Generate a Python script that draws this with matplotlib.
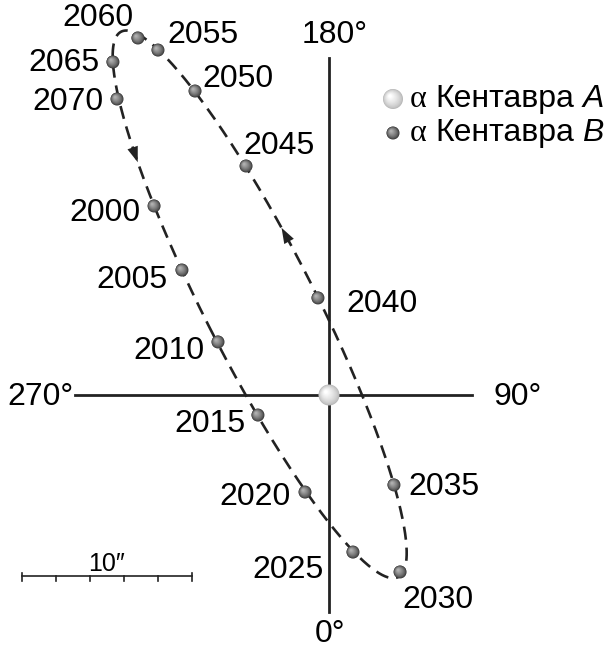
import numpy as np
import matplotlib.pyplot as plt
import matplotlib.colors as mcolors
from matplotlib.patches import Circle
from matplotlib.offsetbox import TextArea, HPacker, AnnotationBbox

plt.rcParams['font.family'] = ['Liberation Sans', 'DejaVu Sans']

# Положения α Кентавра B относительно A, угловые секунды (x вправо, y вверх)
years = [2000, 2005, 2010, 2015, 2020, 2025, 2030, 2035,
         2040, 2045, 2050, 2055, 2060, 2065, 2070]
dx = [-10.29, -8.65, -6.53, -4.18, -1.41, 1.41, 4.18, 3.82,
      -0.65, -4.88, -7.88, -10.06, -11.24, -12.71, -12.47]
dy = [11.12, 7.35, 3.12, -1.18, -5.71, -9.24, -10.41, -5.29,
      5.71, 13.47, 17.88, 20.29, 21.00, 19.59, 17.41]
# смещения подписей годов от точки, пиксели
lab_dx = [-49, -50, -49, -48, -50, -65, 38, 50, 64, 33, 43, 45, -40, -49, -49]
lab_dy = [-7, -10, -9, -9, -5, -18, -28, -2, -6, 20, 12, 15, 20, -1, -3]

SCALE = 17.0          # пикселей на 1″
CX, CY = 329, 395     # где стоит звезда A


def px(x, y):
    return (x - CX) / SCALE, (CY - y) / SCALE


def ball(ax, x, y, r, dark, light, z):
    # шарик с бликом слева сверху
    c0 = np.array(mcolors.to_rgb(dark))
    c1 = np.array(mcolors.to_rgb(light))
    n = 16
    for i in range(n):
        f = i / (n - 1)
        rr = r * (1 - 0.85 * f)
        col = c0 + (c1 - c0) * f ** 0.7
        ax.add_patch(Circle((x - 0.3 * r * f, y + 0.3 * r * f), rr,
                            color=col, lw=0, zorder=z))


fig = plt.figure(figsize=(6.14, 6.53), dpi=100)
ax = fig.add_axes([0, 0, 1, 1])
ax.set_xlim(-CX / SCALE, (614 - CX) / SCALE)
ax.set_ylim((CY - 653) / SCALE, CY / SCALE)
ax.axis('off')

# оси позиционных углов
ax.plot([0, 0], [px(0, 58)[1], px(0, 612)[1]], color='#222222', lw=2.0, zorder=1)
ax.plot([px(75, 0)[0], px(472, 0)[0]], [0, 0], color='#222222', lw=2.0, zorder=1)
fs = 23
ax.text(*px(335, 35), '180°', fontsize=fs, ha='center', va='center')
ax.text(*px(330, 634), '0°', fontsize=fs, ha='center', va='center')
ax.text(*px(40, 397), '270°', fontsize=fs, ha='center', va='center')
ax.text(*px(518, 397), '90°', fontsize=fs, ha='center', va='center')

# эллипс орбиты по точкам (коника, МНК)
x = np.array(dx)
y = np.array(dy)
D = np.column_stack([x * x, x * y, y * y, x, y, np.ones_like(x)])
a, b, c, d, e, f = np.linalg.svd(D)[2][-1]
M = np.array([[2 * a, b], [b, 2 * c]])
ctr = np.linalg.solve(M, [-d, -e])
fc = a * ctr[0] ** 2 + b * ctr[0] * ctr[1] + c * ctr[1] ** 2 + d * ctr[0] + e * ctr[1] + f
lam, vec = np.linalg.eigh(np.array([[a, b / 2], [b / 2, c]]))
ax_len = np.sqrt(-fc / lam)
t = np.linspace(0, 2 * np.pi, 721)
ell = ctr[:, None] + vec @ np.vstack([ax_len[0] * np.cos(t), ax_len[1] * np.sin(t)])
ax.plot(ell[0], ell[1], color='#222222', lw=1.9, dashes=(5, 3), zorder=2)


# направление движения по орбите
def nearest_t(px_, py_):
    return t[np.argmin((ell[0] - px_) ** 2 + (ell[1] - py_) ** 2)]


t0 = nearest_t(x[0], y[0])
t1 = nearest_t(x[1], y[1])
step = np.sign(np.angle(np.exp(1j * (t1 - t0))))


def ell_at(tt):
    return ctr + vec @ np.array([ax_len[0] * np.cos(tt), ax_len[1] * np.sin(tt)])


for tip in [px(137, 163), px(283, 228)]:
    tt = nearest_t(*tip)
    ax.annotate('', xy=ell_at(tt), xytext=ell_at(tt - step * 0.02),
                arrowprops=dict(arrowstyle='-|>,head_length=0.8,head_width=0.28',
                                color='#222222', lw=0, shrinkA=0, shrinkB=0,
                                mutation_scale=14), zorder=3)

# звезда A
ball(ax, 0, 0, 10.5 / SCALE, '#b8b8b8', '#ffffff', 5)

# положения B и подписи
for yr, xi, yi, ox, oy in zip(years, dx, dy, lab_dx, lab_dy):
    ball(ax, xi, yi, 6.5 / SCALE, '#363636', '#b0b0b0', 4)
    ax.annotate(str(yr), (xi, yi), xytext=(ox, oy), textcoords='offset pixels',
                fontsize=fs, ha='center', va='center', zorder=6)

# легенда
for (lx, ly), r, dark, light, name in [((393, 99), 10 / SCALE, '#b8b8b8', '#ffffff', 'A'),
                                       ((393, 133), 6.5 / SCALE, '#363636', '#b0b0b0', 'B')]:
    ball(ax, *px(lx, ly), r, dark, light, 5)
    parts = HPacker(children=[
        TextArea('α', textprops=dict(fontsize=fs, family='Liberation Serif')),
        TextArea('Кентавра', textprops=dict(fontsize=fs)),
        TextArea(name, textprops=dict(fontsize=fs, style='italic')),
    ], sep=6, align='baseline', pad=0)
    ax.add_artist(AnnotationBbox(parts, px(410, ly), box_alignment=(0, 0.5),
                                 frameon=False, pad=0))

# масштаб 10″
x_left, y_bar = px(22, 576)
ax.plot([x_left, x_left + 10], [y_bar, y_bar], color='#222222', lw=1.2)
for k in range(6):
    up = 3.5 / SCALE if k in (0, 5) else 0
    ax.plot([x_left + 2 * k] * 2, [y_bar + up, y_bar - 4.5 / SCALE],
            color='#222222', lw=1.2)
ax.text(x_left + 5, px(0, 564)[1], '10\u2033', fontsize=18, ha='center', va='center')

fig.savefig('out.png', dpi=100)
